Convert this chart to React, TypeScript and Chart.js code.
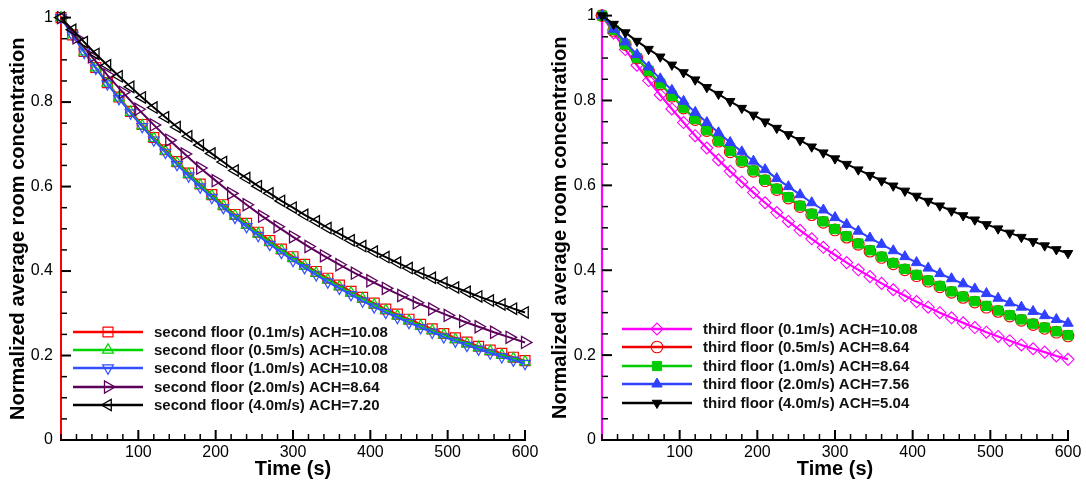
import React, { useEffect, useRef } from 'react';
import { Chart, registerables } from 'chart.js';
import { drawPoint } from 'chart.js/helpers';

Chart.register(...registerables);

const FONT = '"Liberation Sans", Arial, Helvetica, sans-serif';

// ---------- axis / label text ----------
const yTitle = 'Normalized average room concentration';
const xTitle = 'Time (s)';

// ---------- sample times (s) ----------
const times15WithStart = [0, 0, 15, 30, 45, 60, 75, 90, 105, 120, 135, 150, 165, 180, 195, 210, 225, 240, 255, 270, 285, 300, 315, 330, 345, 360, 375, 390, 405, 420, 435, 450, 465, 480, 495, 510, 525, 540, 555, 570, 585, 600];
const times15 = [0, 15, 30, 45, 60, 75, 90, 105, 120, 135, 150, 165, 180, 195, 210, 225, 240, 255, 270, 285, 300, 315, 330, 345, 360, 375, 390, 405, 420, 435, 450, 465, 480, 495, 510, 525, 540, 555, 570, 585, 600];
const times20 = [0, 20, 40, 60, 80, 100, 120, 140, 160, 180, 200, 220, 240, 260, 280, 300, 320, 340, 360, 380, 400, 420, 440, 460, 480, 500, 520, 540, 560, 580, 600];

// ---------- second floor ----------
const secondFloorLabels = [
  'second floor (0.1m/s) ACH=10.08',
  'second floor (0.5m/s) ACH=10.08',
  'second floor (1.0m/s) ACH=10.08',
  'second floor (2.0m/s) ACH=8.64',
  'second floor (4.0m/s) ACH=7.20',
];
const second01 = [0, 1, 0.959, 0.920, 0.882, 0.846, 0.812, 0.778, 0.747, 0.716, 0.687, 0.659, 0.632, 0.606, 0.581, 0.557, 0.534, 0.513, 0.492, 0.472, 0.452, 0.434, 0.416, 0.399, 0.383, 0.367, 0.352, 0.338, 0.324, 0.310, 0.298, 0.286, 0.274, 0.263, 0.252, 0.242, 0.232, 0.222, 0.213, 0.205, 0.196, 0.188];
const second05 = [1, 0.959, 0.919, 0.881, 0.845, 0.810, 0.776, 0.744, 0.714, 0.684, 0.656, 0.629, 0.603, 0.578, 0.554, 0.531, 0.509, 0.488, 0.468, 0.449, 0.430, 0.412, 0.395, 0.379, 0.363, 0.348, 0.334, 0.320, 0.307, 0.294, 0.282, 0.270, 0.259, 0.249, 0.238, 0.228, 0.219, 0.210, 0.201, 0.193, 0.185];
const second10 = [1, 0.958, 0.918, 0.880, 0.843, 0.808, 0.774, 0.742, 0.710, 0.681, 0.652, 0.625, 0.599, 0.574, 0.550, 0.527, 0.505, 0.484, 0.463, 0.444, 0.425, 0.408, 0.391, 0.374, 0.359, 0.344, 0.329, 0.315, 0.302, 0.290, 0.278, 0.266, 0.255, 0.244, 0.234, 0.224, 0.215, 0.206, 0.197, 0.189, 0.181];
const second20 = [1, 0.952, 0.907, 0.864, 0.823, 0.783, 0.746, 0.710, 0.677, 0.644, 0.614, 0.584, 0.557, 0.530, 0.505, 0.481, 0.458, 0.436, 0.415, 0.395, 0.377, 0.359, 0.342, 0.325, 0.310, 0.295, 0.281, 0.268, 0.255, 0.243, 0.231];
const second40 = [1, 0.971, 0.942, 0.914, 0.887, 0.861, 0.836, 0.811, 0.787, 0.764, 0.741, 0.719, 0.698, 0.678, 0.658, 0.638, 0.620, 0.601, 0.584, 0.566, 0.550, 0.533, 0.518, 0.502, 0.488, 0.473, 0.459, 0.446, 0.433, 0.420, 0.407, 0.395, 0.384, 0.372, 0.361, 0.351, 0.340, 0.330, 0.321, 0.311, 0.302];

// ---------- third floor ----------
const thirdFloorLabels = [
  'third floor (0.1m/s) ACH=10.08',
  'third floor (0.5m/s) ACH=8.64',
  'third floor (1.0m/s) ACH=8.64',
  'third floor (2.0m/s) ACH=7.56',
  'third floor (4.0m/s) ACH=5.04',
];
const third01 = [0, 1, 0.959, 0.920, 0.883, 0.847, 0.813, 0.780, 0.748, 0.717, 0.688, 0.660, 0.633, 0.608, 0.583, 0.559, 0.536, 0.515, 0.494, 0.474, 0.454, 0.436, 0.418, 0.401, 0.385, 0.369, 0.354, 0.340, 0.326, 0.313, 0.300, 0.288, 0.276, 0.265, 0.254, 0.244, 0.234, 0.224, 0.215, 0.207, 0.198, 0.190];
const third05 = [1, 0.965, 0.932, 0.900, 0.869, 0.839, 0.810, 0.782, 0.755, 0.729, 0.704, 0.679, 0.656, 0.633, 0.611, 0.590, 0.570, 0.550, 0.531, 0.513, 0.495, 0.478, 0.461, 0.445, 0.430, 0.415, 0.401, 0.387, 0.374, 0.361, 0.348, 0.336, 0.325, 0.313, 0.303, 0.292, 0.282, 0.272, 0.263, 0.254, 0.245];
const third10 = [1, 0.966, 0.932, 0.900, 0.870, 0.840, 0.811, 0.783, 0.756, 0.730, 0.705, 0.681, 0.657, 0.635, 0.613, 0.592, 0.572, 0.552, 0.533, 0.515, 0.497, 0.480, 0.463, 0.447, 0.432, 0.417, 0.403, 0.389, 0.376, 0.363, 0.350, 0.338, 0.327, 0.316, 0.305, 0.294, 0.284, 0.274, 0.265, 0.256, 0.247];
const third20 = [1, 0.968, 0.938, 0.908, 0.879, 0.851, 0.824, 0.798, 0.772, 0.748, 0.724, 0.701, 0.679, 0.657, 0.637, 0.616, 0.597, 0.578, 0.559, 0.542, 0.524, 0.508, 0.492, 0.476, 0.461, 0.446, 0.432, 0.418, 0.405, 0.392, 0.380, 0.368, 0.356, 0.345, 0.334, 0.323, 0.313, 0.303, 0.293, 0.284, 0.275];
const third40 = [1, 0.980, 0.960, 0.940, 0.921, 0.903, 0.884, 0.866, 0.849, 0.831, 0.815, 0.798, 0.782, 0.766, 0.750, 0.735, 0.720, 0.706, 0.691, 0.677, 0.663, 0.650, 0.637, 0.624, 0.611, 0.599, 0.587, 0.575, 0.563, 0.552, 0.540, 0.529, 0.519, 0.508, 0.498, 0.488, 0.478, 0.468, 0.458, 0.449, 0.440];

type Style = {
  color: string;
  fill: string;
  pointStyle: string;
  rotation: number;
  radius: number;
  pointBorder: number;
  lineWidth: number;
};

const HOLLOW = 'rgba(0,0,0,0)';

const secondStyles: Style[] = [
  { color: '#ff0000', fill: HOLLOW, pointStyle: 'rect', rotation: 0, radius: 7, pointBorder: 1.2, lineWidth: 2 },
  { color: '#00d400', fill: HOLLOW, pointStyle: 'triangle', rotation: 0, radius: 6.2, pointBorder: 1.2, lineWidth: 2 },
  { color: '#3050ff', fill: HOLLOW, pointStyle: 'triangle', rotation: 180, radius: 6.2, pointBorder: 1.2, lineWidth: 2 },
  { color: '#5c005c', fill: HOLLOW, pointStyle: 'triangle', rotation: 90, radius: 7, pointBorder: 1.3, lineWidth: 2 },
  { color: '#000000', fill: HOLLOW, pointStyle: 'triangle', rotation: 270, radius: 6.5, pointBorder: 1.3, lineWidth: 2 },
];

const thirdStyles: Style[] = [
  { color: '#ff00ff', fill: HOLLOW, pointStyle: 'rectRot', rotation: 0, radius: 6, pointBorder: 1.1, lineWidth: 2.2 },
  { color: '#ee0000', fill: HOLLOW, pointStyle: 'circle', rotation: 0, radius: 5.8, pointBorder: 1.1, lineWidth: 2 },
  { color: '#00cc00', fill: '#00cc00', pointStyle: 'rect', rotation: 0, radius: 6.5, pointBorder: 1, lineWidth: 2 },
  { color: '#3040ff', fill: '#3040ff', pointStyle: 'triangle', rotation: 0, radius: 6, pointBorder: 1, lineWidth: 2 },
  { color: '#000000', fill: '#000000', pointStyle: 'triangle', rotation: 180, radius: 5.5, pointBorder: 1, lineWidth: 2 },
];

function toPoints(times: number[], values: number[]) {
  return times.map((t, i) => ({ x: t, y: values[i] }));
}

function makeDatasets(labels: string[], times: number[][], values: number[][], styles: Style[]) {
  return labels.map((label, i) => {
    const s = styles[i];
    const hasStart = i === 0;
    return {
      label,
      data: toPoints(times[i], values[i]),
      borderColor: s.color,
      backgroundColor: s.color,
      borderWidth: s.lineWidth,
      pointStyle: s.pointStyle,
      pointRotation: s.rotation,
      pointRadius: hasStart ? (ctx: any) => (ctx.dataIndex === 0 ? 0 : s.radius) : s.radius,
      pointBorderWidth: s.pointBorder,
      pointBorderColor: s.color,
      pointBackgroundColor: s.fill,
      pointHoverRadius: s.radius,
      markerRadius: s.radius,
      tension: 0,
      clip: false as const,
      order: labels.length - i,
    };
  });
}

function innerTicksPlugin() {
  return {
    id: 'innerTicks',
    afterDraw(chart: any) {
      const { ctx, chartArea } = chart;
      const xs = chart.scales.x;
      const ys = chart.scales.y;
      ctx.save();
      ctx.strokeStyle = '#000';
      xs.ticks.forEach((t: any, i: number) => {
        const p = xs.getPixelForTick(i);
        const major = t.label !== '';
        ctx.lineWidth = major ? 2 : 1.5;
        ctx.beginPath();
        ctx.moveTo(p, chartArea.bottom);
        ctx.lineTo(p, chartArea.bottom - (major ? 10 : 6));
        ctx.stroke();
      });
      ys.ticks.forEach((t: any, i: number) => {
        const p = ys.getPixelForTick(i);
        const major = t.label !== '';
        ctx.lineWidth = major ? 2 : 1.5;
        ctx.beginPath();
        ctx.moveTo(chartArea.left, p);
        ctx.lineTo(chartArea.left + (major ? 10 : 6), p);
        ctx.stroke();
      });
      ctx.restore();
    },
  };
}

type LegendCfg = { x0: number; x1: number; textX: number; rows: number[] };

function legendPlugin(cfg: LegendCfg) {
  return {
    id: 'boxLegend',
    afterDraw(chart: any) {
      const ctx = chart.ctx;
      chart.data.datasets.forEach((ds: any, i: number) => {
        const y = cfg.rows[i];
        ctx.save();
        ctx.strokeStyle = ds.borderColor;
        ctx.lineWidth = 2.5;
        ctx.beginPath();
        ctx.moveTo(cfg.x0, y);
        ctx.lineTo(cfg.x1, y);
        ctx.stroke();
        ctx.fillStyle = ds.pointBackgroundColor;
        ctx.strokeStyle = ds.borderColor;
        ctx.lineWidth = ds.pointBorderWidth;
        drawPoint(
          ctx,
          {
            pointStyle: ds.pointStyle,
            rotation: ds.pointRotation,
            radius: ds.markerRadius,
            borderWidth: ds.pointBorderWidth,
          } as any,
          (cfg.x0 + cfg.x1) / 2,
          y
        );
        ctx.fillStyle = '#111';
        ctx.font = 'bold 15px ' + FONT;
        ctx.textBaseline = 'middle';
        ctx.textAlign = 'left';
        ctx.fillText(ds.label, cfg.textX, y + 1);
        ctx.restore();
      });
    },
  };
}

function makeOptions(yWidth: number, titlePad: number, padRight: number, tickPad: number) {
  return {
    responsive: false,
    animation: false as const,
    events: [] as any[],
    layout: { padding: { left: 0, right: padRight, top: 15, bottom: 0 } },
    plugins: { legend: { display: false }, tooltip: { enabled: false } },
    scales: {
      x: {
        type: 'linear' as const,
        min: 0,
        max: 600,
        afterFit: (s: any) => {
          s.height = 43;
        },
        grid: { display: false, drawTicks: false },
        border: { display: true, width: 2, color: '#000' },
        ticks: {
          stepSize: 20,
          autoSkip: false,
          maxRotation: 0,
          minRotation: 0,
          padding: 3,
          color: '#000',
          font: { family: FONT, size: 16 },
          callback: (v: any) => {
            const n = Math.round(Number(v));
            return n % 100 === 0 && n !== 0 ? String(n) : '';
          },
        },
        title: {
          display: true,
          text: xTitle,
          color: '#000',
          font: { family: FONT, size: 20, weight: 'bold' as const },
          padding: { top: 0, bottom: 2 },
        },
      },
      y: {
        type: 'linear' as const,
        min: 0,
        max: 1,
        afterFit: (s: any) => {
          s.width = yWidth;
        },
        grid: { display: false, drawTicks: false },
        border: { display: true, width: 2, color: '#000' },
        ticks: {
          stepSize: 0.05,
          autoSkip: false,
          padding: tickPad,
          color: '#000',
          font: { family: FONT, size: 16 },
          callback: (v: any) => {
            const k = Math.round(Number(v) * 20);
            if (k % 4 !== 0) return '';
            const val = k / 20;
            if (val === 0) return '0';
            if (val === 1) return '1';
            return val.toFixed(1);
          },
        },
        title: {
          display: true,
          text: yTitle,
          color: '#000',
          font: { family: FONT, size: 20, weight: 'bold' as const },
          padding: { top: titlePad, bottom: 0 },
        },
      },
    },
  };
}

export default function App() {
  const leftRef = useRef<HTMLCanvasElement | null>(null);
  const rightRef = useRef<HTMLCanvasElement | null>(null);

  useEffect(() => {
    const left = new Chart(leftRef.current as HTMLCanvasElement, {
      type: 'line',
      data: {
        datasets: makeDatasets(
          secondFloorLabels,
          [times15WithStart, times15, times15, times20, times15],
          [second01, second05, second10, second20, second40],
          secondStyles
        ) as any,
      },
      options: makeOptions(61, 6, 18, 8) as any,
      plugins: [innerTicksPlugin(), legendPlugin({ x0: 73, x1: 143, textX: 154, rows: [332, 350, 368, 387, 405] })] as any,
    });
    const right = new Chart(rightRef.current as HTMLCanvasElement, {
      type: 'line',
      data: {
        datasets: makeDatasets(
          thirdFloorLabels,
          [times15WithStart, times15, times15, times15, times15],
          [third01, third05, third10, third20, third40],
          thirdStyles
        ) as any,
      },
      options: makeOptions(59, 5, 18, 6) as any,
      plugins: [innerTicksPlugin(), legendPlugin({ x0: 79, x1: 149, textX: 160, rows: [329, 347, 366, 384, 403] })] as any,
    });
    return () => {
      left.destroy();
      right.destroy();
    };
  }, []);

  return (
    <div style={{ position: 'fixed', left: 0, top: 0, width: 1086, height: 483, background: '#fff' }}>
      <canvas ref={leftRef} width={543} height={483} style={{ position: 'absolute', left: 0, top: 0, width: 543, height: 483 }} />
      <canvas ref={rightRef} width={543} height={483} style={{ position: 'absolute', left: 543, top: 0, width: 543, height: 483 }} />
    </div>
  );
}
